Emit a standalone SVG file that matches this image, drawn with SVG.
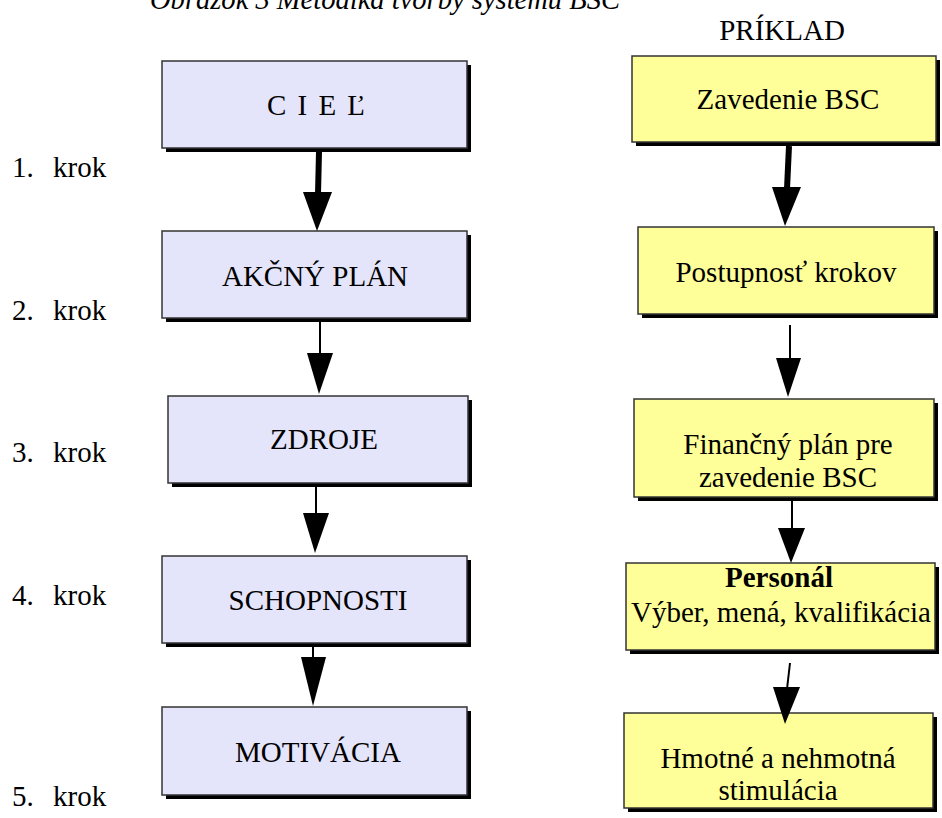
<svg xmlns="http://www.w3.org/2000/svg" width="942" height="818" viewBox="0 0 942 818">
<style>
text{font-family:"Liberation Serif","Times New Roman",serif;font-size:29px;fill:#000}
.sh{fill:#000}
.bl{fill:#E4E4FA;stroke:#333;stroke-width:1.5}
.yl{fill:#FFFF99;stroke:#333;stroke-width:1.5}
.c{text-anchor:middle}
.ln{stroke:#000;stroke-width:2;fill:none}
.lt{stroke:#000;stroke-width:6;fill:none}
.hd{fill:#000}
</style>
<text x="150" y="9" font-style="italic" textLength="470" lengthAdjust="spacingAndGlyphs">Obrázok 3 Metodika tvorby systému BSC</text>
<text x="782" y="40" class="c">PRÍKLAD</text>
<g id="steps">
<text x="12" y="177">1.<tspan x="53">krok</tspan></text>
<text x="12" y="320">2.<tspan x="53">krok</tspan></text>
<text x="12" y="462">3.<tspan x="53">krok</tspan></text>
<text x="12" y="605">4.<tspan x="53">krok</tspan></text>
<text x="12" y="806">5.<tspan x="53">krok</tspan></text>
</g>
<g id="ciel"><rect class="sh" x="166" y="65" width="305" height="87"/><rect class="bl" x="162" y="61" width="305" height="87"/><text x="317" y="115" class="c" letter-spacing="2">C I E Ľ</text></g>
<g id="akcny"><rect class="sh" x="166" y="235" width="305" height="87"/><rect class="bl" x="162" y="231" width="305" height="87"/><text x="315" y="286" class="c">AKČNÝ PLÁN</text></g>
<g id="zdroje"><rect class="sh" x="172" y="400" width="300" height="87"/><rect class="bl" x="168" y="396" width="300" height="87"/><text x="324" y="449" class="c">ZDROJE</text></g>
<g id="schopnosti"><rect class="sh" x="166" y="560" width="305" height="87"/><rect class="bl" x="162" y="556" width="305" height="87"/><text x="318" y="610" class="c">SCHOPNOSTI</text></g>
<g id="motivacia"><rect class="sh" x="166" y="711" width="305" height="88"/><rect class="bl" x="162" y="707" width="305" height="88"/><text x="318" y="762" class="c">MOTIVÁCIA</text></g>
<g id="zavedenie"><rect class="sh" x="636" y="60" width="304" height="86"/><rect class="yl" x="632" y="56" width="304" height="86"/><text x="788" y="109" class="c">Zavedenie BSC</text></g>
<g id="postupnost"><rect class="sh" x="642" y="231" width="296" height="87"/><rect class="yl" x="638" y="227" width="296" height="87"/><text x="786" y="282" class="c">Postupnosť krokov</text></g>
<g id="financny"><rect class="sh" x="638" y="403" width="300" height="98"/><rect class="yl" x="634" y="399" width="300" height="98"/><text x="788" y="454" class="c">Finančný plán pre</text><text x="788" y="487" class="c">zavedenie BSC</text></g>
<g id="personal"><rect class="sh" x="630" y="567" width="309" height="87"/><rect class="yl" x="626" y="563" width="309" height="87"/><text x="779" y="587" class="c" font-weight="bold">Personál</text><text x="781" y="622" class="c">Výber, mená, kvalifikácia</text></g>
<g id="hmotne"><rect class="sh" x="628" y="717" width="309" height="95"/><rect class="yl" x="624" y="713" width="309" height="95"/><text x="778" y="768" class="c">Hmotné a nehmotná</text><text x="778" y="800" class="c">stimulácia</text></g>
<g id="connectors">
<path class="lt" d="M319 152 L318 194"/><polygon class="hd" points="303,192 332,192 317,231"/>
<path class="ln" d="M320 322 L320 355"/><polygon class="hd" points="307,353 333,353 319,394"/>
<path class="ln" d="M316 487 L316 515"/><polygon class="hd" points="303,513 329,513 315,553"/>
<path class="ln" d="M313 647 L313 659"/><polygon class="hd" points="301,657 326,657 313,706"/>
<path class="lt" d="M789 146 L787 189"/><polygon class="hd" points="772,187 801,187 785,226"/>
<path class="ln" d="M790 325 L790 360"/><polygon class="hd" points="776,358 801,358 788,397"/>
<path class="ln" d="M792 501 L792 530"/><polygon class="hd" points="778,528 805,528 791,563"/>
<path class="ln" d="M790 663 L787 689"/><polygon class="hd" points="773,687 800,687 785,724"/>
</g>
</svg>
